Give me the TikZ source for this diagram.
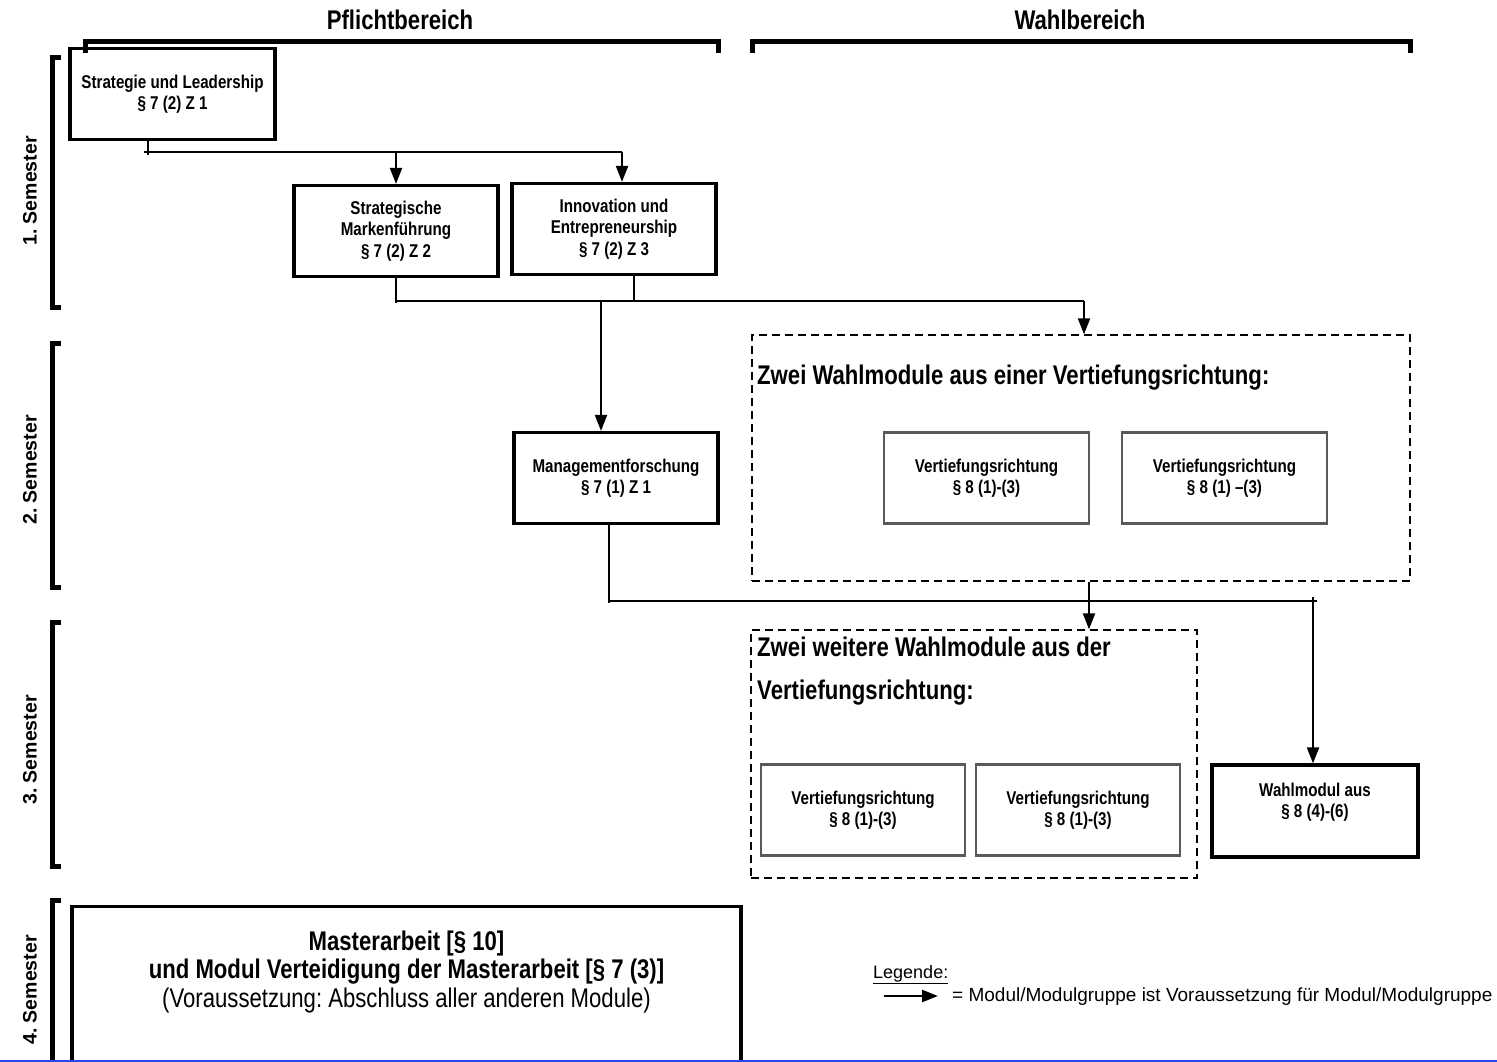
\documentclass[tikz,border=0pt]{standalone}
\usepackage{fontspec}
\setmainfont{Liberation Sans}
\newfontfamily\narrowfont{Liberation Sans}[FakeStretch=0.82,Ligatures=TeX]
\usetikzlibrary{arrows.meta,positioning}
\definecolor{wahlgrey}{RGB}{90,90,90}
\definecolor{pageblue}{RGB}{40,70,235}
\frenchspacing

\begin{document}
\begin{tikzpicture}[x=1pt,y=-1pt,every node/.style={inner sep=0pt},
  modbox/.style={draw,line width=3.2pt,minimum width=204pt,minimum height=91pt,align=center,font=\narrowfont\bfseries\fontsize{18.5}{21.5}\selectfont},
  wahlbox/.style={modbox,draw=wahlgrey,line width=2.8pt},
  groupbox/.style={draw,line width=1.3pt,dash pattern=on 8pt off 5pt},
  arrowline/.style={line width=2pt,-{Triangle[length=16pt,width=12pt]}},
  plainline/.style={line width=2pt},
  bracket/.style={line width=5pt},
  semlabel/.style={rotate=90,font=\bfseries\fontsize{19.5}{22}\selectfont},
  headlabel/.style={font=\narrowfont\bfseries\fontsize{27}{30}\selectfont},
  grouptitle/.style={anchor=west,align=left,font=\narrowfont\bfseries\fontsize{27}{43}\selectfont}]
\useasboundingbox (0,0) rectangle (1497,1062);
\node[headlabel] (pflicht) at (400,20) {Pflichtbereich};
\node[headlabel] (wahl) at (1080,20) {Wahlbereich};
\draw[bracket] (85,53) -- (85,42) -- (718,42) -- (718,53);
\draw[bracket] (752,53) -- (752,42) -- (1410,42) -- (1410,53);
\draw[bracket] (61,58) -- (52,58) -- (52,307) -- (61,307);
\draw[bracket] (61,343) -- (52,343) -- (52,587) -- (61,587);
\draw[bracket] (61,622) -- (52,622) -- (52,866) -- (61,866);
\draw[bracket] (61,900) -- (52,900) -- (52,1070);
\node[semlabel] (sem1) at (30,191) {1. Semester};
\node[semlabel] (sem2) at (30,470) {2. Semester};
\node[semlabel] (sem3) at (30,750) {3. Semester};
\node[semlabel] (sem4) at (30,990) {4. Semester};
\node[modbox,minimum width=205pt] (SL) at (172.5,94) {Strategie und Leadership\\§ 7 (2) Z 1};
\node[modbox] (SM) at (396,231) {Strategische\\Markenführung\\§ 7 (2) Z 2};
\node[modbox] (IE) at (614,229) {Innovation und\\Entrepreneurship\\§ 7 (2) Z 3};
\node[modbox] (MF) at (616,478) {Managementforschung\\§ 7 (1) Z 1};
\node[groupbox,minimum width=658pt,minimum height=246pt] (D1) at (1081,458) {};
\node[grouptitle] (D1title) at (757,378) {Zwei Wahlmodule aus einer Vertiefungsrichtung:};
\node[wahlbox,minimum width=205pt] (V1) at (986.5,478) {Vertiefungsrichtung\\§ 8 (1)-(3)};
\node[wahlbox,minimum width=205pt] (V2) at (1224.5,478) {Vertiefungsrichtung\\§ 8 (1) –(3)};
\node[groupbox,minimum width=446pt,minimum height=248pt] (D2) at (974,754) {};
\node[grouptitle] (D2title) at (757,671) {Zwei weitere Wahlmodule aus der\\Vertiefungsrichtung:};
\node[wahlbox] (V3) at (863,810) {Vertiefungsrichtung\\§ 8 (1)-(3)};
\node[wahlbox] (V4) at (1078,810) {Vertiefungsrichtung\\§ 8 (1)-(3)};
\node[modbox,minimum width=206pt,minimum height=92pt] (WM) at (1315,811) {Wahlmodul aus\\§ 8 (4)-(6)\\\mbox{}};
\node[modbox,minimum width=669pt,minimum height=157pt,anchor=north] (MA) at (406.5,905) {};
\node[align=center,font=\narrowfont\fontsize{27}{28.5}\selectfont] (MAtext) at (406.5,972) {\textbf{Masterarbeit [§ 10]}\\\textbf{und Modul Verteidigung der Masterarbeit [§ 7 (3)]}\\(Voraussetzung: Abschluss aller anderen Module)};
\coordinate (k1) at (148,152);
\coordinate (k2) at (622,152);
\draw[plainline] (SL.south -| k1) -- ([yshift=-3pt]k1);
\draw[plainline] ([xshift=-4pt]k1) -- (k2);
\draw[arrowline] (k1 -| SM.north) -- (SM.north);
\draw[arrowline] (k2) -- (k2 |- IE.north);
\coordinate (k3) at (396,301);
\coordinate (k4) at (1084,301);
\coordinate (k5) at (634,301);
\coordinate (k6) at (601,301);
\draw[plainline] (SM.south) -- ([yshift=-2pt]SM.south |- k3);
\draw[plainline] (k5 |- IE.south) -- (k5);
\draw[plainline] (SM.south |- k3) -- (k4);
\draw[arrowline] (k4) -- (k4 |- D1.north);
\draw[arrowline] (k6) -- (k6 |- MF.north);
\coordinate (k7) at (609,601);
\coordinate (k8) at (1313,601);
\coordinate (k9) at (1089,601);
\draw[plainline] (k7 |- MF.south) -- ([yshift=-2pt]k7);
\draw[plainline] (k7) -- ([xshift=4pt]k8);
\draw[arrowline] (D1.south -| k9) -- (D2.north -| k9);
\draw[arrowline] ([yshift=4pt]k8) -- (k8 |- WM.north);
\node[anchor=south west,font=\fontsize{18}{20}\selectfont] (leghead) at (873,984) {\underline{Legende:}};
\coordinate (lega) at (884,996);
\coordinate (legb) at (938,996);
\draw[arrowline,line width=2.4pt] (lega) -- (legb);
\node[anchor=west,font=\fontsize{19}{22}\selectfont] (legtext) at (952,997) {= Modul/Modulgruppe ist Voraussetzung für Modul/Modulgruppe};
\draw[pageblue,line width=1.2pt] (0,1061) -- (1497,1061);
\end{tikzpicture}
\end{document}
